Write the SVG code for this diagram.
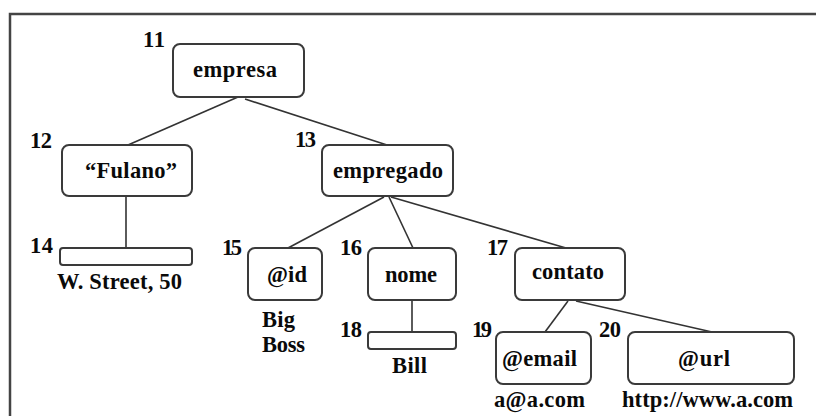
<svg xmlns="http://www.w3.org/2000/svg" width="816" height="416" viewBox="0 0 816 416">
  <style>
    .frame { fill: none; stroke: #444; stroke-width: 2.5; }
    .node { fill: #fff; stroke: #3a3a3a; stroke-width: 2; }
    .edge { stroke: #333; stroke-width: 1.6; fill: none; }
    text { font-family: "Liberation Serif", "Times New Roman", serif; font-weight: bold; font-size: 22.5px; fill: #0a0a0a; }
  </style>
  <rect width="816" height="416" fill="#fff"/>
  <!-- outer frame, open at right and bottom -->
  <path class="frame" d="M10,420 V14 H820"/>

  <g id="connectors">
    <line class="edge" x1="238" y1="97" x2="128" y2="145"/>
    <line class="edge" x1="245" y1="99" x2="387" y2="145"/>
    <line class="edge" x1="126" y1="196" x2="126" y2="248"/>
    <line class="edge" x1="384" y1="197" x2="288" y2="248"/>
    <line class="edge" x1="389" y1="197" x2="413" y2="248"/>
    <line class="edge" x1="391" y1="197" x2="566" y2="248"/>
    <line class="edge" x1="412" y1="300" x2="412" y2="332"/>
    <line class="edge" x1="568" y1="301" x2="545" y2="332"/>
    <line class="edge" x1="576" y1="301" x2="712" y2="332"/>
  </g>

  <g id="n11">
    <rect class="node" x="173" y="44" width="131" height="53" rx="7"/>
    <text x="193" y="77" textLength="84" lengthAdjust="spacing">empresa</text>
    <text x="143" y="47" textLength="22" lengthAdjust="spacing">11</text>
  </g>
  <g id="n12">
    <rect class="node" x="62" y="145" width="130" height="51" rx="7"/>
    <text x="85" y="178" textLength="92" lengthAdjust="spacing">“Fulano”</text>
    <text x="30" y="148" textLength="22" lengthAdjust="spacing">12</text>
  </g>
  <g id="n13">
    <rect class="node" x="322" y="145" width="131" height="51" rx="7"/>
    <text x="333" y="178" textLength="110" lengthAdjust="spacing">empregado</text>
    <text x="295" y="147" textLength="21" lengthAdjust="spacing">13</text>
  </g>
  <g id="n14">
    <rect class="node" x="60" y="248" width="132" height="17" rx="3"/>
    <text x="57" y="289" textLength="125" lengthAdjust="spacing">W. Street, 50</text>
    <text x="30" y="253" textLength="23" lengthAdjust="spacing">14</text>
  </g>
  <g id="n15">
    <rect class="node" x="248" y="248" width="74" height="52" rx="7"/>
    <text x="267" y="282" textLength="40" lengthAdjust="spacing">@id</text>
    <text x="262" y="327" textLength="33" lengthAdjust="spacing">Big</text>
    <text x="262" y="352" textLength="43" lengthAdjust="spacing">Boss</text>
    <text x="222" y="255" textLength="20" lengthAdjust="spacing">15</text>
  </g>
  <g id="n16">
    <rect class="node" x="368" y="248" width="88" height="52" rx="7"/>
    <text x="385" y="282" textLength="52" lengthAdjust="spacing">nome</text>
    <text x="340" y="255" textLength="22" lengthAdjust="spacing">16</text>
  </g>
  <g id="n17">
    <rect class="node" x="515" y="248" width="110" height="52" rx="7"/>
    <text x="532" y="279" textLength="72" lengthAdjust="spacing">contato</text>
    <text x="487" y="255" textLength="21" lengthAdjust="spacing">17</text>
  </g>
  <g id="n18">
    <rect class="node" x="368" y="332" width="88" height="17" rx="3"/>
    <text x="392" y="373" textLength="35" lengthAdjust="spacing">Bill</text>
    <text x="340" y="337" textLength="22" lengthAdjust="spacing">18</text>
  </g>
  <g id="n19">
    <rect class="node" x="496" y="332" width="95" height="52" rx="7"/>
    <text x="502" y="366" textLength="75" lengthAdjust="spacing">@email</text>
    <text x="494" y="407" textLength="91" lengthAdjust="spacing">a@a.com</text>
    <text x="472" y="337" textLength="20" lengthAdjust="spacing">19</text>
  </g>
  <g id="n20">
    <rect class="node" x="628" y="332" width="166" height="52" rx="7"/>
    <text x="678" y="366" textLength="52" lengthAdjust="spacing">@url</text>
    <text x="622" y="407" textLength="171" lengthAdjust="spacing">http://www.a.com</text>
    <text x="599" y="337" textLength="22" lengthAdjust="spacing">20</text>
  </g>
</svg>
